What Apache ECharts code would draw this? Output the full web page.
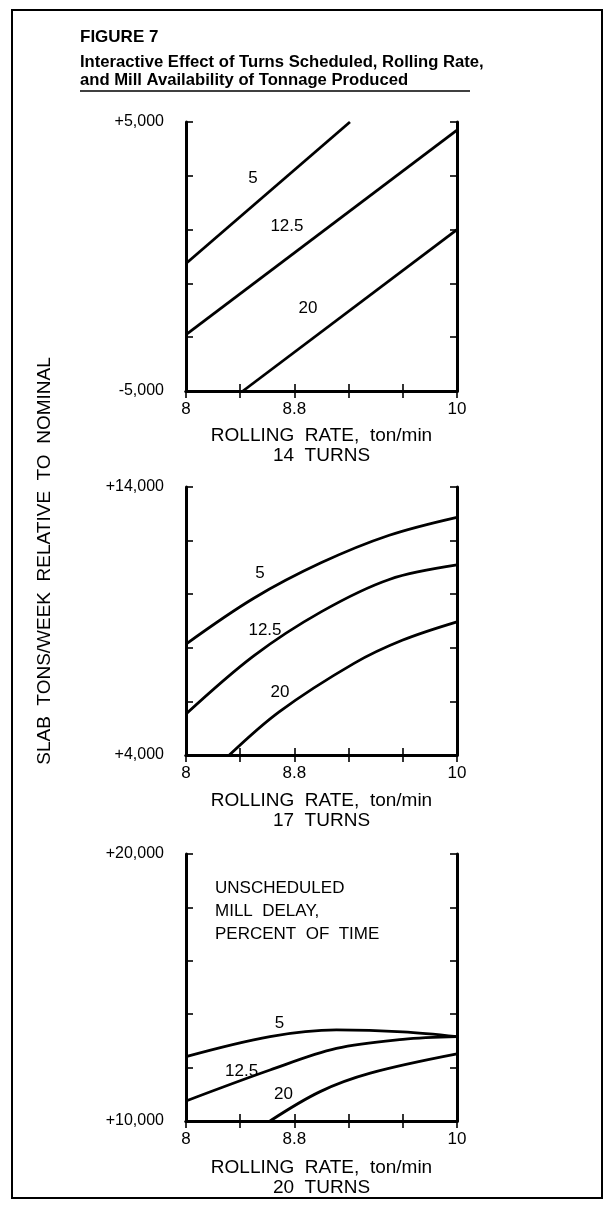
<!DOCTYPE html>
<html><head><meta charset="utf-8">
<script src="https://cdn.jsdelivr.net/npm/echarts@6/dist/echarts.min.js"></script>
<style>html,body{margin:0;padding:0;background:#fff}#c{width:606px;height:1208px}</style>
</head><body><div id="c"></div>
<script>
// ---- data ----
const xTickValues = [8, 8.4, 8.8, 9.2, 9.6, 10];
const xLabelValues = [8, 8.8, 10];
const xLabelTexts = ['8', '8.8', '10'];
const panelTurns = ['14  TURNS', '17  TURNS', '20  TURNS'];
const yMins = [-5000, 4000, 10000];
const yMaxs = [5000, 14000, 20000];
const yLabelMin = ['-5,000', '+4,000', '+10,000'];
const yLabelMax = ['+5,000', '+14,000', '+20,000'];
const delayLevels = ['5', '12.5', '20'];

const turns14_delay5 = [[8, -260], [9.21, 5000]];
const turns14_delay12_5 = [[8, -2900], [10, 4700]];
const turns14_delay20 = [[8.42, -5000], [10, 1000]];

const turns17_delay5 = [[8, 8140], [8.5, 9850], [9.0, 11180], [9.5, 12200], [10, 12870]];
const turns17_delay12_5 = [[8, 5530], [8.5, 7700], [9.0, 9350], [9.5, 10550], [10, 11090]];
const turns17_delay20 = [[8.32, 4000], [8.69, 5620], [9.24, 7420], [9.6, 8290], [10, 8970]];

const turns20_delay5 = [[8, 12410], [8.62, 13160], [9.11, 13410], [9.6, 13340], [10, 13160]];
const turns20_delay12_5 = [[8, 10750], [8.62, 11910], [9.11, 12720], [9.6, 13060], [10, 13160]];
const turns20_delay20 = [[8.62, 10000], [8.99, 11100], [9.36, 11790], [10, 12510]];

// ---- layout ----
const FONT = "'Liberation Sans', Arial, sans-serif";
const panelData = [
  [turns14_delay5, turns14_delay12_5, turns14_delay20],
  [turns17_delay5, turns17_delay12_5, turns17_delay20],
  [turns20_delay5, turns20_delay12_5, turns20_delay20]
];
const labelSpots = [
  [[8.494, 2889], [8.745, 1111], [8.90, -1926]],
  [[8.546, 10790], [8.583, 8660], [8.694, 6350]],
  [[8.69, 13670], [8.41, 11850], [8.72, 11000]]
];
const gridTops = [122, 487, 854];
const gridHeights = [269, 268, 267];
const nameGaps = [35, 36, 37];
const smoothPanel = [false, 0.35, 0.35];

const grids = [], xAxes = [], yAxes = [], series = [];
const lineAx = {lineStyle: {color: '#000', width: 3}};
const tickIn = {inside: true, length: 7, lineStyle: {color: '#000', width: 1.6}};

for (let p = 0; p < 3; p++) {
  grids.push({left: 186, width: 271, top: gridTops[p], height: gridHeights[p], show: false});
  const span = yMaxs[p] - yMins[p];
  xAxes.push({
    gridIndex: p, type: 'value', min: xTickValues[0], max: xTickValues[xTickValues.length - 1],
    interval: xTickValues[1] - xTickValues[0], position: 'bottom',
    axisLine: lineAx, axisTick: tickIn, splitLine: {show: false},
    axisLabel: {
      formatter: v => { const i = xLabelValues.findIndex(t => Math.abs(t - v) < 1e-6); return i >= 0 ? xLabelTexts[i] : ''; },
      color: '#000', fontSize: 17, margin: 10, fontFamily: FONT
    },
    name: 'ROLLING  RATE,  ton/min\n' + panelTurns[p], nameLocation: 'middle', nameGap: nameGaps[p],
    nameTextStyle: {color: '#000', fontSize: 19, fontFamily: FONT, lineHeight: 20}
  });
  xAxes.push({
    gridIndex: p, type: 'value', min: xTickValues[0], max: xTickValues[xTickValues.length - 1],
    interval: xTickValues[1] - xTickValues[0], position: 'top',
    axisLine: lineAx, axisTick: tickIn, splitLine: {show: false}, axisLabel: {show: false}
  });
  yAxes.push({
    gridIndex: p, type: 'value', min: 0, max: span, interval: 2000, position: 'left',
    axisLine: lineAx, axisTick: tickIn, splitLine: {show: false},
    axisLabel: {
      formatter: v => v === 0 ? yLabelMin[p] : (v === span ? yLabelMax[p] : ''),
      color: '#000', fontSize: 16, margin: 22, fontFamily: FONT
    }
  });
  yAxes.push({
    gridIndex: p, type: 'value', min: 0, max: span, interval: 2000, position: 'right',
    axisLine: lineAx, axisTick: tickIn, splitLine: {show: false}, axisLabel: {show: false}
  });
  for (let s = 0; s < 3; s++) {
    series.push({
      type: 'line', xAxisIndex: 2 * p, yAxisIndex: 2 * p,
      data: panelData[p][s].map(d => [d[0], d[1] - yMins[p]]),
      smooth: smoothPanel[p], symbol: 'none', silent: true,
      lineStyle: {color: '#000', width: 2.8},
      markPoint: {
        symbol: 'circle', symbolSize: 0, silent: true,
        label: {show: true, formatter: delayLevels[s], color: '#000', fontSize: 17, fontFamily: FONT},
        data: [{coord: [labelSpots[p][s][0], labelSpots[p][s][1] - yMins[p]]}]
      }
    });
  }
}

const option = {
  backgroundColor: '#fff',
  animation: false,
  grid: grids, xAxis: xAxes, yAxis: yAxes, series: series,
  graphic: [
    {type: 'rect', shape: {x: 12, y: 10, width: 590, height: 1188}, style: {fill: 'none', stroke: '#000', lineWidth: 2}},
    {type: 'text', x: 80, y: 37, style: {text: 'FIGURE 7', font: "bold 17px " + FONT, fill: '#000', verticalAlign: 'middle'}},
    {type: 'text', x: 80, y: 63, scaleX: 1.04, style: {text: 'Interactive Effect of Turns Scheduled, Rolling Rate,', font: "bold 16px " + FONT, fill: '#000', verticalAlign: 'middle'}},
    {type: 'text', x: 80, y: 81, scaleX: 1.04, style: {text: 'and Mill Availability of Tonnage Produced', font: "bold 16px " + FONT, fill: '#000', verticalAlign: 'middle'}},
    {type: 'line', shape: {x1: 80, y1: 91, x2: 470, y2: 91}, style: {stroke: '#000', lineWidth: 1.5}},
    {type: 'text', x: 45, y: 561, rotation: Math.PI / 2, style: {text: 'SLAB  TONS/WEEK  RELATIVE  TO  NOMINAL', font: "19px " + FONT, fill: '#000', align: 'center', verticalAlign: 'middle'}},
    {type: 'text', x: 215, y: 877, style: {text: 'UNSCHEDULED\nMILL  DELAY,\nPERCENT  OF  TIME', font: "17px " + FONT, fill: '#000', lineHeight: 23, verticalAlign: 'top'}}
  ]
};
const chart = echarts.init(document.getElementById('c'));
chart.setOption(option);
</script></body></html>
